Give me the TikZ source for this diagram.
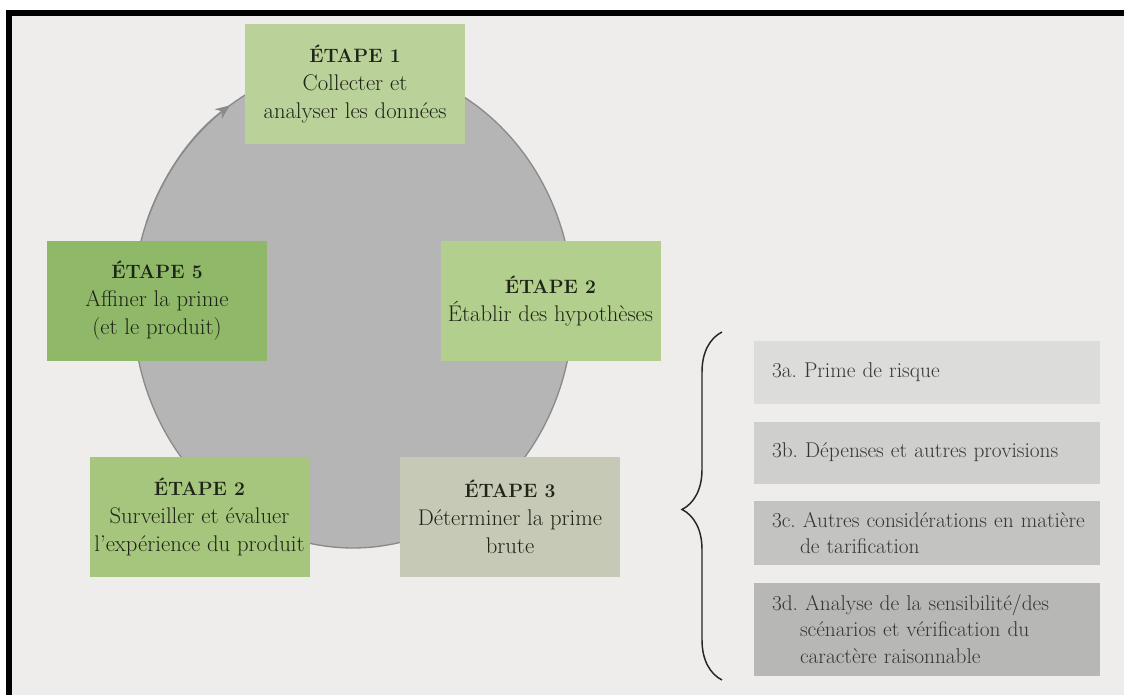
\documentclass[tikz,border=0pt]{standalone}
\usetikzlibrary{positioning,shapes.geometric,arrows.meta,decorations.pathreplacing}

\definecolor{bgpage}{HTML}{EEEDEB}
\definecolor{cyclefill}{HTML}{B5B5B5}
\definecolor{cycleline}{HTML}{8A8A8A}
\definecolor{greenone}{HTML}{BAD19A}
\definecolor{greentwo}{HTML}{B3CF8E}
\definecolor{greenmid}{HTML}{A6C67E}
\definecolor{greendark}{HTML}{8FB868}
\definecolor{greygreen}{HTML}{C5C9B6}
\definecolor{suba}{HTML}{DCDCDA}
\definecolor{subb}{HTML}{CFCFCD}
\definecolor{subc}{HTML}{C3C3C1}
\definecolor{subd}{HTML}{B7B7B5}
\definecolor{darktext}{HTML}{1F2418}
\definecolor{subtextcol}{HTML}{353533}

\newcommand{\etapehead}[1]{{\fontsize{14.5}{21}\selectfont\bfseries ÉTAPE #1}}

\begin{document}
\frenchspacing
\begin{tikzpicture}[x=0.75pt, y=0.75pt, node distance=12.75pt]
        \tikzstyle{arrow} = [line width=1pt, draw=cycleline, -{Stealth[length=11pt,width=9pt]}]
        \tikzstyle{stage} = [rectangle, minimum width=165pt, minimum height=90pt, align=center, text=darktext, inner sep=1pt, font=\fontsize{17}{21}\selectfont]
        \tikzstyle{subbox} = [rectangle, minimum width=259.5pt, text width=232.5pt, inner xsep=13.5pt, align=left, text=subtextcol, font=\fontsize{16}{20}\selectfont]

        % page and frame
        \useasboundingbox (0,0) rectangle (1124,695);
        \fill[white] (0,0) rectangle (1124,695);
        \fill[black] (6,0) rectangle (1124,685);
        \fill[bgpage] (12,0) rectangle (1124,679);

        % cycle
        \node (cycle) [ellipse, minimum width=330pt, minimum height=363pt, inner sep=0pt, fill=cyclefill, draw=cycleline, line width=1pt] at (353,389) {};
        \draw [arrow] ([shift={(160:165pt and 181.5pt)}]cycle.center) arc[start angle=160, end angle=124, x radius=165pt, y radius=181.5pt];

        \node (etape1) [stage, fill=greenone] at (355,611) {\etapehead{1}\\Collecter et\\analyser les données};
        \node (etape2) [stage, fill=greentwo] at (550.5,394) {\etapehead{2}\\Établir des hypothèses};
        \node (etape3) [stage, fill=greygreen] at (510,178) {\etapehead{3}\\Déterminer la prime\\brute};
        \node (suivi) [stage, fill=greenmid] at (199.5,178) {\etapehead{2}\\Surveiller et évaluer\\l'expérience du produit};
        \node (etape5) [stage, fill=greendark] at (157,394) {\etapehead{5}\\Affiner la prime\\(et le produit)};

        % sub-steps of step 3
        \node (sub3a) [subbox, fill=suba, minimum height=47.25pt] at (927,322.5) {3a. Prime de risque};
        \node (sub3b) [subbox, fill=subb, minimum height=46.5pt, below=of sub3a] {3b. Dépenses et autres provisions};
        \node (sub3c) [subbox, fill=subc, minimum height=48pt, below=of sub3b] {\mbox{3c. Autres considérations en matière}\\\hspace*{21pt}de tarification};
        \node (sub3d) [subbox, fill=subd, minimum height=69.75pt, below=of sub3c] {3d. Analyse de la sensibilité/des\\\hspace*{21pt}scénarios et vérification du\\\hspace*{21pt}caractère raisonnable};

        \coordinate (bracebot) at (722,15);
        \coordinate (bracetop) at (722,363);
        \draw [decorate, decoration={brace, amplitude=30pt, aspect=0.49}, line width=1.1pt, draw=black!85] (bracebot) -- (bracetop);

    \end{tikzpicture}
\end{document}
